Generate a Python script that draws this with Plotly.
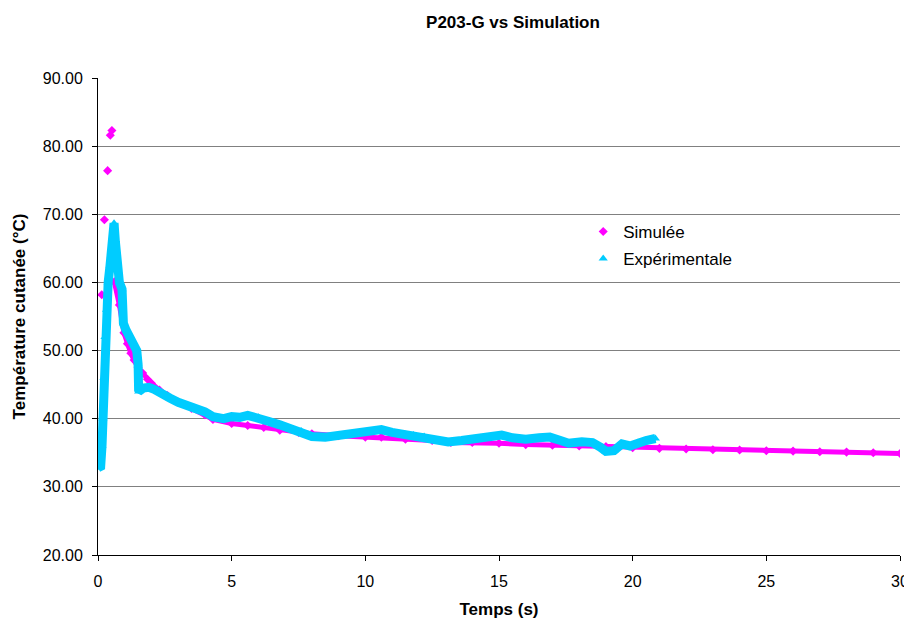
import plotly.graph_objects as go

# Simulated series (time s, temperature °C)
sim_t = [0.0, 0.14, 0.24, 0.36, 0.46, 0.52, 0.61, 0.8, 0.97, 1.1, 1.23, 1.35, 1.5, 1.67, 1.85,
         2.0, 2.3, 2.6, 3.0, 3.5, 4.0, 4.3, 5.0, 5.6, 6.2, 6.8, 7.5, 8.0, 9.0, 10.0, 10.6,
         11.5, 12.5, 13.2, 14.0, 15.0, 16.0, 17.0, 18.0, 19.0, 20.0, 21.0, 22.0, 23.0, 24.0,
         25.0, 26.0, 27.0, 28.0, 29.0, 30.0]
sim_T = [33.2, 58.2, 69.2, 76.4, 81.6, 82.3, 60.1, 56.7, 52.6, 51.0, 49.6, 48.6, 47.5, 46.7, 45.8,
         45.2, 44.2, 43.4, 42.4, 41.5, 40.6, 39.9, 39.3, 39.0, 38.7, 38.3, 38.0, 37.8, 37.5, 37.3, 37.3,
         37.0, 36.8, 36.5, 36.5, 36.4, 36.2, 36.1, 36.0, 35.9, 35.75, 35.65, 35.55, 35.45, 35.4,
         35.3, 35.25, 35.15, 35.1, 35.0, 34.9]

# Experimental series (time s, temperature °C)
exp_t = [0.0, 0.1, 0.15, 0.18, 0.22, 0.26, 0.32, 0.38, 0.45, 0.5, 0.55, 0.6, 0.65, 0.7, 0.8,
         0.9, 0.95, 1.05, 1.2, 1.35, 1.45, 1.5, 1.52, 1.7, 1.9, 2.1, 2.4, 2.7, 3.0, 3.3, 3.6,
         4.0, 4.3, 4.7, 5.0, 5.3, 5.6, 6.0, 6.4, 6.8, 7.2, 7.6, 8.0, 8.5, 9.0, 9.3, 9.7, 10.1,
         10.6, 11.0, 11.5, 11.8, 12.2, 12.6, 13.1, 13.6, 14.0, 14.3, 14.7, 15.1, 15.5, 16.0,
         16.5, 16.9, 17.3, 17.6, 18.1, 18.5, 18.8, 19.0, 19.3, 19.6, 19.9, 20.2, 20.5, 20.85]
exp_T = [32.8, 33.0, 36.0, 40.0, 46.0, 52.0, 56.0, 60.0, 62.5, 64.0, 66.5, 68.7, 66.0, 62.0, 60.0,
         59.0, 54.0, 53.0, 52.0, 51.0, 50.0, 48.0, 44.0, 44.5, 44.6, 44.3, 43.8, 43.0, 42.4, 42.0, 41.6,
         41.0, 40.3, 40.0, 40.3, 40.2, 40.5, 40.2, 39.6, 39.1, 38.6, 38.2, 37.4, 37.3, 37.5, 37.6, 37.8, 38.1,
         38.4, 38.0, 37.7, 37.6, 37.4, 36.9, 36.6, 36.8, 37.0, 37.2, 37.3, 37.6, 37.2, 37.0,
         37.2, 37.3, 36.8, 36.4, 36.6, 36.5, 35.8, 35.2, 35.3, 36.3, 36.0, 36.5, 36.8, 37.1]

y_ticks = [20, 30, 40, 50, 60, 70, 80, 90]
x_ticks = [0, 5, 10, 15, 20, 25, 30]

MAGENTA = "#FF00FF"
CYAN = "#00CCFF"
FONT = "Liberation Sans, Arial, sans-serif"

fig = go.Figure()
# dense band under simulated markers (after the initial isolated points)
fig.add_trace(go.Scatter(x=sim_t[6:], y=sim_T[6:], mode="lines",
                         line=dict(color=MAGENTA, width=5), showlegend=False, hoverinfo="skip"))
fig.add_trace(go.Scatter(x=sim_t, y=sim_T, mode="markers", name="Simulée",
                         marker=dict(symbol="diamond", color=MAGENTA, size=7),
                         legendgroup="a"))
fig.add_trace(go.Scatter(x=exp_t, y=exp_T, mode="lines",
                         line=dict(color=CYAN, width=9), showlegend=False, hoverinfo="skip"))
fig.add_trace(go.Scatter(x=exp_t, y=exp_T, mode="markers", name="Expérimentale",
                         marker=dict(symbol="triangle-up", color=CYAN, size=8),
                         legendgroup="b"))

fig.update_layout(
    width=904, height=616,
    margin=dict(l=90, r=12, t=70, b=69),
    paper_bgcolor="white", plot_bgcolor="white",
    font=dict(family=FONT, size=16, color="black"),
    title=dict(text="<b>P203-G vs Simulation</b>", x=0.5586, xanchor="center", y=0.977,
               yanchor="middle", font=dict(size=17)),
    legend=dict(x=0.605, y=0.715, xanchor="left", yanchor="top", bgcolor="rgba(0,0,0,0)",
                font=dict(size=17), tracegroupgap=2, traceorder="grouped"),
    xaxis=dict(range=[0, 30], tickvals=x_ticks, ticks="outside", ticklen=5, tickcolor="black",
               showline=True, linecolor="black", linewidth=1, showgrid=False, zeroline=False,
               automargin=False, ticklabelstandoff=7,
               title=dict(text="<b>Temps (s)</b>", font=dict(size=17), standoff=13),
               tickfont=dict(size=16)),
    yaxis=dict(range=[20, 90], tickvals=y_ticks, tickformat=".2f", ticks="outside", ticklen=5,
               tickcolor="black", showline=True, linecolor="black", linewidth=1,
               showgrid=True, gridcolor="#808080", gridwidth=1, zeroline=False,
               automargin=False, ticklabelstandoff=6,
               title=dict(text="<b>Température cutanée (°C)</b>", font=dict(size=17), standoff=12),
               tickfont=dict(size=16)),
)

fig.write_html("out.html")
